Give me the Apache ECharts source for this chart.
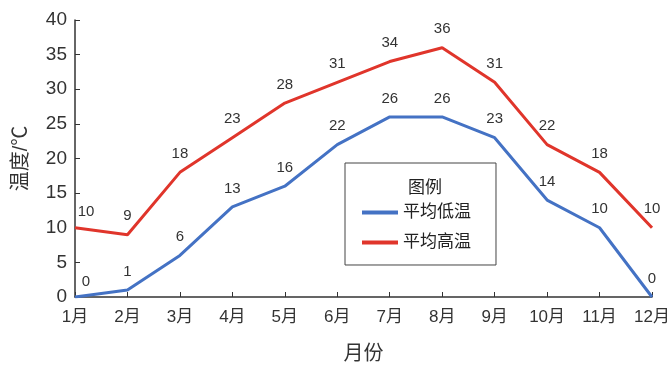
<!DOCTYPE html>
<html><head><meta charset="utf-8">
<script src="https://cdn.jsdelivr.net/npm/echarts@6/dist/echarts.min.js"></script>
<style>html,body{margin:0;padding:0;background:#fff}#c{width:672px;height:366px}</style>
</head><body><div id="c"></div>
<script>
const months = ['1月','2月','3月','4月','5月','6月','7月','8月','9月','10月','11月','12月'];
const lowTemps = [0,1,6,13,16,22,26,26,23,14,10,0];
const highTemps = [10,9,18,23,28,31,34,36,31,22,18,10];
const seriesNames = ['平均低温','平均高温'];
const yTicks = {min:0, max:40, interval:5};
const FONT = '"Liberation Sans", "Noto Sans CJK SC", sans-serif';
function mk(vals){
  return vals.map((v,i)=> i===0 ? {value:v, label:{offset:[11,3]}} : v);
}
const chart = echarts.init(document.getElementById('c'));
chart.setOption({
  animation:false,
  textStyle:{fontFamily:FONT},
  grid:{left:75,right:20,top:20,bottom:69,outerBoundsMode:'none',containLabel:false},
  title:{text:'图例',left:403,top:175,textStyle:{fontSize:17,fontWeight:'normal',color:'#222',fontFamily:FONT}},
  legend:{
    orient:'vertical',left:345,top:163,
    padding:[41,25,14,17],itemGap:13,
    borderColor:'#444',borderWidth:1,
    icon:'rect',itemWidth:36,itemHeight:4,
    textStyle:{fontSize:17,color:'#222',fontFamily:FONT},
    data:[seriesNames[0],seriesNames[1]]
  },
  xAxis:{
    type:'category',data:months,boundaryGap:false,
    name:'月份',nameLocation:'middle',nameGap:47,
    nameTextStyle:{fontSize:20,color:'#333'},
    axisLine:{lineStyle:{color:'#333',width:1.5}},
    axisTick:{inside:true,length:5,lineStyle:{color:'#333'}},
    axisLabel:{fontSize:17,color:'#333',margin:12},
    splitLine:{show:false}
  },
  yAxis:{
    type:'value',min:yTicks.min,max:yTicks.max,interval:yTicks.interval,
    name:'温度/℃',nameLocation:'middle',nameRotate:90,nameGap:44,
    nameTextStyle:{fontSize:20,color:'#333'},
    axisLine:{show:true,lineStyle:{color:'#333',width:1.5}},
    axisTick:{show:true,inside:true,length:5,lineStyle:{color:'#333'}},
    axisLabel:{fontSize:19,color:'#333',margin:8},
    splitLine:{show:false}
  },
  series:[
    {name:seriesNames[0],type:'line',data:mk(lowTemps),symbol:'circle',symbolSize:0,showSymbol:true,
     lineStyle:{color:'#4472C4',width:3},itemStyle:{color:'#4472C4'},
     label:{show:true,position:'top',distance:11,fontSize:15,color:'#333'}},
    {name:seriesNames[1],type:'line',data:mk(highTemps),symbol:'circle',symbolSize:0,showSymbol:true,
     lineStyle:{color:'#E0352B',width:3},itemStyle:{color:'#E0352B'},
     label:{show:true,position:'top',distance:11,fontSize:15,color:'#333'}}
  ]
});
</script></body></html>
